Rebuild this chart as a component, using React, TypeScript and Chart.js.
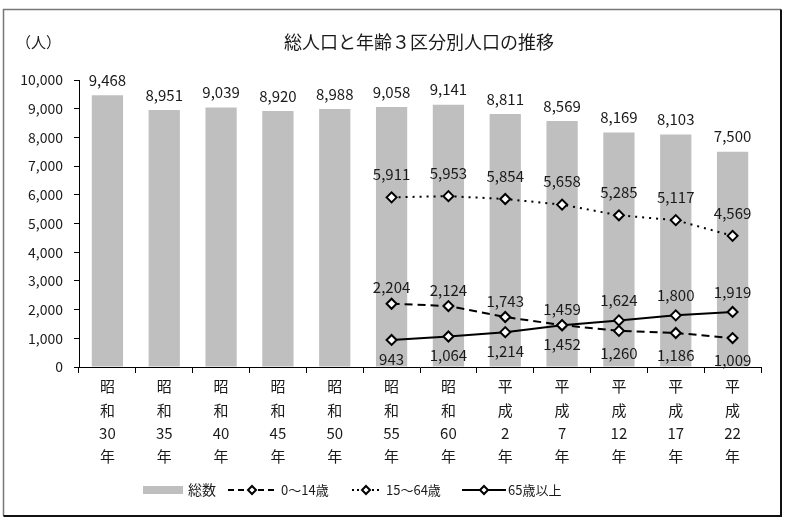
import React, { useEffect, useRef } from "react";
import { Chart, registerables } from "chart.js";

Chart.register(...registerables);

const categories: string[][] = [
  ["昭", "和", "30", "年"],
  ["昭", "和", "35", "年"],
  ["昭", "和", "40", "年"],
  ["昭", "和", "45", "年"],
  ["昭", "和", "50", "年"],
  ["昭", "和", "55", "年"],
  ["昭", "和", "60", "年"],
  ["平", "成", "2", "年"],
  ["平", "成", "7", "年"],
  ["平", "成", "12", "年"],
  ["平", "成", "17", "年"],
  ["平", "成", "22", "年"],
];
const totalValues = [9468, 8951, 9039, 8920, 8988, 9058, 9141, 8811, 8569, 8169, 8103, 7500];
const age0to14 = [null, null, null, null, null, 2204, 2124, 1743, 1459, 1260, 1186, 1009];
const age15to64 = [null, null, null, null, null, 5911, 5953, 5854, 5658, 5285, 5117, 4569];
const age65plus = [null, null, null, null, null, 943, 1064, 1214, 1452, 1624, 1800, 1919];
const yTicks = [0, 1000, 2000, 3000, 4000, 5000, 6000, 7000, 8000, 9000, 10000];

const FONT = '"Noto Sans CJK JP", "Noto Sans", sans-serif';
const TXT = "#1a1a1a";
const fmt = (v: number) => v.toLocaleString("en-US");

const diamond = (ctx: CanvasRenderingContext2D, x: number, y: number, r: number) => {
  ctx.beginPath();
  ctx.moveTo(x, y - r);
  ctx.lineTo(x + r, y);
  ctx.lineTo(x, y + r);
  ctx.lineTo(x - r, y);
  ctx.closePath();
  ctx.fillStyle = "#fff";
  ctx.fill();
  ctx.lineWidth = 2;
  ctx.strokeStyle = "#000";
  ctx.setLineDash([]);
  ctx.stroke();
};

const decorPlugin = {
  id: "decor",
  beforeDraw(chart: any) {
    const ctx = chart.ctx as CanvasRenderingContext2D;
    ctx.save();
    ctx.fillStyle = "#fff";
    ctx.fillRect(0, 0, chart.width, chart.height);
    ctx.restore();
  },
  afterDraw(chart: any) {
    const ctx = chart.ctx as CanvasRenderingContext2D;
    ctx.save();
    // frame
    ctx.strokeStyle = "#777";
    ctx.lineWidth = 1.5;
    ctx.beginPath();
    ctx.moveTo(3.5, 516);
    ctx.lineTo(3.5, 9.5);
    ctx.lineTo(781, 9.5);
    ctx.stroke();
    ctx.strokeStyle = "#111";
    ctx.lineWidth = 2;
    ctx.beginPath();
    ctx.moveTo(781, 9.5);
    ctx.lineTo(781, 516);
    ctx.lineTo(3.5, 516);
    ctx.stroke();

    // title
    ctx.fillStyle = TXT;
    ctx.textBaseline = "middle";
    ctx.textAlign = "center";
    ctx.font = `18px ${FONT}`;
    ctx.fillText("総人口と年齢３区分別人口の推移", 419, 42);
    ctx.textAlign = "left";
    ctx.font = `15px ${FONT}`;
    ctx.fillText("（人）", 16, 42);

    // data labels
    ctx.font = `15px ${FONT}`;
    ctx.textAlign = "center";
    const barMeta = chart.getDatasetMeta(0);
    barMeta.data.forEach((el: any, i: number) => {
      ctx.fillText(fmt(totalValues[i]), el.x, el.y - 15);
    });
    const m0 = chart.getDatasetMeta(1);
    const m1 = chart.getDatasetMeta(2);
    const m2 = chart.getDatasetMeta(3);
    age15to64.forEach((v, i) => {
      if (v == null) return;
      const el = m1.data[i];
      ctx.fillText(fmt(v), el.x, el.y - 23);
    });
    age0to14.forEach((v, i) => {
      if (v == null) return;
      const el = m0.data[i];
      const other = age65plus[i] as number;
      const above = v >= other;
      ctx.fillText(fmt(v), el.x, above ? el.y - 16 : el.y + 22);
    });
    age65plus.forEach((v, i) => {
      if (v == null) return;
      const el = m2.data[i];
      const other = age0to14[i] as number;
      const above = v > other;
      ctx.fillText(fmt(v), el.x, above ? el.y - 20 : el.y + 19);
    });

    // legend
    const ly = 490;
    ctx.fillStyle = "#bfbfbf";
    ctx.fillRect(143, ly - 4, 40, 8);
    ctx.fillStyle = TXT;
    ctx.textAlign = "left";
    ctx.font = `14px ${FONT}`;
    ctx.fillText("総数", 188, ly);

    const sample = (x0: number, x1: number, dash: number[], label: string, tx: number) => {
      ctx.strokeStyle = "#000";
      ctx.lineWidth = 2;
      ctx.setLineDash(dash);
      ctx.beginPath();
      ctx.moveTo(x0, ly);
      ctx.lineTo(x1, ly);
      ctx.stroke();
      ctx.setLineDash([]);
      diamond(ctx, (x0 + x1) / 2, ly, 4);
      ctx.fillStyle = TXT;
      ctx.font = `13px ${FONT}`;
      ctx.fillText(label, tx, ly);
    };
    sample(228, 276, [6, 4], "0～14歳", 281);
    sample(352, 380, [2, 3], "15～64歳", 386);
    sample(462, 506, [], "65歳以上", 508);
    ctx.restore();
  },
};

export default function App() {
  const ref = useRef<HTMLCanvasElement | null>(null);
  useEffect(() => {
    if (!ref.current) return;
    const lineCommon = {
      type: "line" as const,
      borderColor: "#000",
      borderWidth: 2,
      pointStyle: "rectRot" as const,
      pointRadius: 5,
      pointBackgroundColor: "#fff",
      pointBorderColor: "#000",
      pointBorderWidth: 2,
      fill: false,
      tension: 0,
      order: 1,
    };
    const chart = new Chart(ref.current, {
      type: "bar",
      data: {
        labels: categories,
        datasets: [
          {
            type: "bar",
            label: "総数",
            data: totalValues,
            backgroundColor: "#bfbfbf",
            categoryPercentage: 1,
            barPercentage: 0.55,
            order: 4,
          } as any,
          { ...lineCommon, label: "0～14歳", data: age0to14, borderDash: [8, 5] } as any,
          { ...lineCommon, label: "15～64歳", data: age15to64, borderDash: [2, 5] } as any,
          { ...lineCommon, label: "65歳以上", data: age65plus } as any,
        ],
      },
      options: {
        responsive: false,
        animation: false,
        layout: { padding: { left: 0, right: 28, top: 80, bottom: 0 } },
        plugins: {
          legend: { display: false },
          title: { display: false },
          tooltip: { enabled: false },
        },
        scales: {
          x: {
            offset: true,
            grid: {
              display: true,
              offset: true,
              drawOnChartArea: false,
              drawTicks: true,
              tickLength: 6,
              color: "#000",
            },
            border: { display: true, color: "#000", width: 1 },
            ticks: {
              color: TXT,
              font: { family: FONT, size: 15, lineHeight: 1.55 },
              padding: 2,
              maxRotation: 0,
              autoSkip: false,
            },
            afterFit: (s: any) => {
              s.height = 159;
            },
          },
          y: {
            min: 0,
            max: 10000,
            afterBuildTicks: (s: any) => {
              s.ticks = yTicks.map((v) => ({ value: v }));
            },
            grid: {
              display: true,
              drawOnChartArea: false,
              drawTicks: true,
              tickLength: 5,
              color: "#000",
            },
            border: { display: true, color: "#000", width: 1 },
            ticks: {
              color: TXT,
              font: { family: FONT, size: 14 },
              padding: 11,
              callback: (v: any) => fmt(Number(v)),
            },
            afterFit: (s: any) => {
              s.width = 79;
            },
          },
        },
      },
      plugins: [decorPlugin],
    });
    return () => chart.destroy();
  }, []);
  return (
    <div style={{ position: "absolute", left: 0, top: 0, width: 789, height: 526, background: "#fff" }}>
      <canvas ref={ref} width={789} height={526} style={{ display: "block" }} />
    </div>
  );
}
